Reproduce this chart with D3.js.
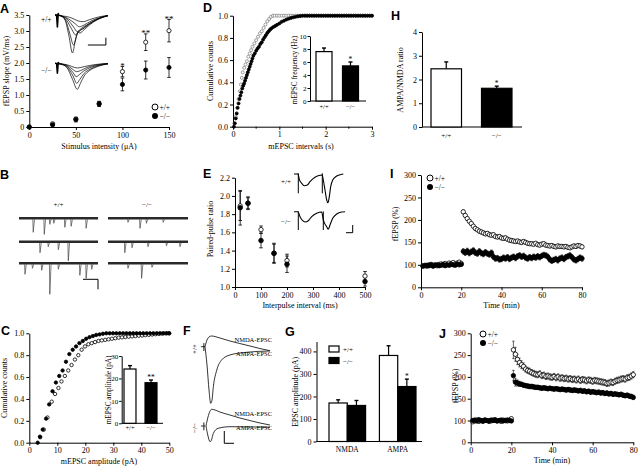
<!DOCTYPE html>
<html><head><meta charset="utf-8">
<script src="https://cdn.jsdelivr.net/npm/d3@7"></script>
<style>
body{margin:0;background:#fff}
svg text{font-family:"Liberation Serif","Times New Roman",serif;fill:#000}
</style></head><body>
<svg id="c" width="638" height="467" xmlns="http://www.w3.org/2000/svg"></svg>
<script>
// ===================== DATA =====================
const WT = "+/+", KO = "\u2212/\u2212";
const genotypes = [WT, KO];
// --- A: input-output ---
const aStim = [0,25,50,75,100,125,150];
const aWT = [0.00,0.10,0.25,0.73,1.73,2.65,3.01];
const aWTerr = [0.02,0.04,0.05,0.07,0.16,0.26,0.35];
const aKO = [0.00,0.07,0.23,0.72,1.33,1.78,1.86];
const aKOerr = [0.02,0.04,0.07,0.08,0.20,0.28,0.31];
const aStars = ["","","","","*","**","**"];
const aYTicks = [0,0.5,1,1.5,2,2.5,3,3.5];
const aYLabels = ["0","0.5","1.0","1.5","2.0","2.5","3.0","3.5"];
const aXTicks = [0,50,100,150];
// A inset traces (ms, mV)
const aTracesWT = [
 [[0,0],[1.0,-0.05],[1.8,-0.3],[2.6,-1.5],[3.3,-2.85],[3.8,-2.0],[4.3,-1.3],[5.0,-1.0],[6.0,-0.75],[7.5,-0.4],[9,-0.15],[10,-0.05]],
 [[0,0],[1.0,-0.05],[2.0,-0.4],[2.8,-1.4],[3.5,-2.25],[4.1,-1.5],[4.6,-1.2],[5.3,-1.0],[6.3,-0.7],[7.8,-0.35],[9,-0.15],[10,-0.05]],
 [[0,0],[1.0,-0.05],[2.2,-0.4],[3.2,-1.1],[3.9,-1.5],[4.3,-1.3],[4.7,-1.35],[5.5,-1.1],[6.5,-0.75],[8,-0.35],[10,-0.05]],
 [[0,0],[1.0,-0.05],[2.4,-0.35],[3.5,-0.9],[4.2,-1.25],[4.8,-1.15],[5.6,-0.95],[6.8,-0.6],[8.2,-0.3],[10,-0.05]],
 [[0,0],[1.0,-0.05],[2.6,-0.3],[3.8,-0.65],[4.6,-0.88],[5.5,-0.75],[6.8,-0.45],[8.4,-0.2],[10,-0.05]],
 [[0,0],[1.0,-0.05],[3.0,-0.2],[4.4,-0.45],[5.3,-0.5],[6.5,-0.35],[8.2,-0.15],[10,-0.03]]
];
const aTracesKO = [
 [[0,0],[1,-0.05],[2.2,-0.3],[3.3,-1.2],[4.2,-1.95],[4.8,-1.5],[5.5,-0.95],[6.5,-0.55],[8,-0.25],[10,-0.05]],
 [[0,0],[1,-0.05],[2.3,-0.3],[3.4,-0.95],[4.1,-1.5],[4.7,-1.2],[5.5,-0.75],[6.6,-0.45],[8,-0.2],[10,-0.04]],
 [[0,0],[1,-0.05],[2.4,-0.25],[3.4,-0.7],[4.0,-1.0],[4.6,-0.85],[5.5,-0.55],[6.8,-0.3],[8.5,-0.12],[10,-0.03]],
 [[0,0],[1,-0.04],[2.5,-0.2],[3.5,-0.5],[4.1,-0.63],[4.8,-0.55],[6,-0.32],[7.5,-0.15],[10,-0.02]],
 [[0,0],[1,-0.03],[2.6,-0.15],[3.6,-0.3],[4.3,-0.35],[5.5,-0.25],[7.5,-0.1],[10,-0.01]]
];
const aArtWT = [[0.3,0],[0.45,-0.9],[0.6,0.1],[0.75,0]];
const aArtKO = [[0.3,0],[0.45,-0.75],[0.6,0.05],[0.75,0]];
const aScaleBar = [[6.2,-2.25],[9.6,-2.25],[9.6,-1.7]];
// --- B: mEPSC traces (spike time 0-100, amplitude pA) ---
const bSpikesWT = [
 [[18,13],[32,15],[39,5],[44,4],[58,8],[66,7],[85,9]],
 [[26.6,10],[37,4],[49.8,7],[62.4,18]],
 [[7.6,10],[17,4],[28.7,6],[39,30],[49.8,5],[77,11],[85,14],[92,5]]
];
const bSpikesKO = [
 [[25,3],[40,9],[48,4],[69,3]],
 [[21,10],[30,5],[50,4],[73,3],[90,4]],
 [[25,4],[42,14],[55,3]]
];
const bScaleBar = [[81,-15],[100,-15],[100,-25]];
// --- C: amplitude cumulative ---
const cKOx = [3,3.8,4.8,6,7.1,8.3,9.5,10.7,11.9,13.1,14.3,15.5,16.7,17.9,19.1,20.3,21.5,22.7,23.9,25.1,26.3,27.5,28.7,29.9,31.1,32.3,33.5,34.7,35.9,37.1,38.3,39.5,40.7,41.9,43.1,44.3,45.5,46.7,47.9,49.1,50];
const cKOy = [0,0.055,0.12,0.22,0.35,0.47,0.55,0.61,0.66,0.74,0.81,0.85,0.88,0.91,0.93,0.95,0.965,0.975,0.985,0.99,0.996,1,1,1,1,1,1,1,1,1,1,1,1,1,1,1,1,1,1,1,1];
const cWTx = [3.9,5.2,6.5,8,9.2,10.4,11.5,12.7,13.9,15.1,16.3,17.5,18.7,19.9,21.1,22.3,23.5,24.7,25.9,27.1,28.3,29.5,30.7,31.9,33.1,34.3,35.5,36.7,37.9,39.1,40.3,41.5,42.7,43.9,45.1,46.3,47.5,48.7,49.9];
const cWTy = [0.05,0.12,0.23,0.375,0.445,0.5,0.56,0.61,0.66,0.71,0.76,0.8,0.85,0.88,0.9,0.91,0.92,0.93,0.935,0.94,0.945,0.95,0.955,0.96,0.963,0.966,0.969,0.972,0.975,0.978,0.98,0.983,0.986,0.989,0.992,0.995,0.997,1.0,1.0];
const cYTicks = [0,0.2,0.4,0.6,0.8,1.0];
const cYLabels = ["0.0","0.2","0.4","0.6","0.8","1.0"];
const cXTicks = [0,10,20,30,40,50];
const cAmp = [24.2,18.1], cAmpErr = [1.5,1.2], cAmpStar = ["","**"];
const cInsetTicks = [0,10,20,30];
// --- D: interval cumulative ---
const dWTx = [0.03,0.06,0.09,0.12,0.15,0.17,0.19,0.21,0.24,0.27,0.30,0.33,0.36,0.39,0.42,0.46,0.50,0.54,0.58,0.62,0.66,0.70,0.74,0.78,0.82,0.86];
const dWTy = [0.03,0.09,0.17,0.25,0.32,0.38,0.44,0.49,0.53,0.56,0.59,0.63,0.66,0.69,0.72,0.75,0.78,0.81,0.84,0.86,0.89,0.92,0.95,0.97,0.99,1.0];
const dWTtopX = [0.90,0.95,1.00,1.05,1.10,1.15,1.20,1.25,1.30,1.35,1.40,1.45,1.50,1.55,1.60,1.65,1.70,1.75,1.80,1.85,1.90,1.95,2.00,2.05,2.10,2.15,2.20,2.25,2.30,2.35,2.40,2.45,2.50,2.55,2.60,2.65,2.70,2.75,2.80,2.85,2.90,2.95,3.00];
const dKOx = [0.02,0.04,0.06,0.08,0.10,0.12,0.14,0.16,0.18,0.20,0.22,0.24,0.26,0.28,0.30,0.32,0.34,0.36,0.38,0.40,0.42,0.44,0.47,0.50,0.53,0.56,0.59,0.62,0.65,0.68,0.71,0.74,0.77,0.80,0.83,0.87,0.91,0.95,1.00,1.05,1.10,1.15,1.20,1.25,1.30,1.35,1.40,1.45,1.50,1.55,1.60];
const dKOy = [0.0,0.03,0.075,0.12,0.17,0.21,0.25,0.28,0.31,0.345,0.37,0.39,0.415,0.44,0.465,0.49,0.515,0.54,0.565,0.59,0.615,0.64,0.66,0.685,0.705,0.72,0.745,0.76,0.785,0.805,0.825,0.845,0.86,0.875,0.886,0.898,0.908,0.918,0.93,0.945,0.955,0.965,0.973,0.98,0.985,0.99,0.994,0.997,1.0,1.0,1.0];
const dKOtopX = [1.65,1.70,1.75,1.80,1.85,1.90,1.95,2.00,2.05,2.10,2.15,2.20,2.25,2.30,2.35,2.40,2.45,2.50,2.55,2.60,2.65,2.70,2.75,2.80,2.85,2.90,2.95,3.00];
const dTop = 1.0;
const dXTicks = [0,1,2,3], dXMinor = [0.5,1.5,2.5];
const dFreq = [7.6,5.4], dFreqErr = [0.55,0.6], dFreqStar = ["","*"];
const dInsetTicks = [0,2,4,6,8,10];
// --- E: paired-pulse ---
const eInt = [20,50,100,150,200,500];
const eWT = [1.89,1.92,1.63,1.37,1.29,1.12];
const eWTerr = [0.16,0.06,0.04,0.10,0.07,0.05];
const eKO = [1.87,1.92,1.51,1.37,1.25,1.06];
const eKOerr = [0.19,0.07,0.08,0.11,0.09,0.05];
const eYTicks = [1.0,1.2,1.4,1.6,1.8,2.0,2.2];
const eYLabels = ["1.0","1.2","1.4","1.6","1.8","2.0","2.2"];
const eXTicks = [0,100,200,300,400,500];
const eTraceWT = [[0,0],[8,0],[10.6,-0.53],[15.4,-0.93],[20.6,-1.17],[26.6,-1.1],[32,-0.77],[42,-0.33],[52,-0.13],[56.6,-0.1],[58.6,-0.6],[62,-1.6],[65.4,-2.6],[68,-2.87],[70.6,-2.27],[73.4,-1.27],[77.4,-0.6],[85.4,-0.2],[95.4,-0.03],[98.6,0]];
const eTraceKO = [[0,0],[8,0],[12,-0.5],[17.4,-0.9],[22,-1.03],[28.6,-0.9],[35.4,-0.5],[45.4,-0.16],[55.4,-0.03],[58.6,-0.83],[65.4,-1.5],[68.6,-1.76],[72,-1.33],[77.4,-0.66],[85.4,-0.23],[95.4,-0.03],[102,0]];
const eArtWT = [[8.6,0.07,-1.93],[56.6,0.07,-1.93]];
const eArtKO = [[8.6,0.03,-1.83],[58.6,0.03,-1.83]];
const eScaleBar = [[104,-2.1],[117.4,-2.1],[117.4,-1.33]];
// --- F: NMDA/AMPA EPSC traces (ms, pA) ---
const fWT_NMDA = [[5.8,0],[11.6,47],[17.4,68],[25,75],[35,71],[49,61],[78,40],[107,22],[136,5],[165,-13],[194,-28]];
const fWT_AMPA = [[5.8,0],[11.6,-128],[17.4,-303],[22.3,-396],[26,-375],[30,-280],[40,-163],[54,-93],[78,-58],[127,-39],[194,-30]];
const fKO_NMDA = [[8.7,0],[14.5,63],[25,117],[35,112],[49,98],[78,77],[107,56],[136,38],[165,21],[194,7]];
const fKO_AMPA = [[8.7,0],[14.5,-70],[20.3,-110],[24.6,-98],[30,-51],[44,-16],[78,-5],[194,-9]];
const fPre = [[-6,0],[6,0]];
const fArt = [2.5, 25, -30];
const fScaleBar = [[61.7,-35],[61.7,-121],[89.9,-121]];
// --- G: EPSC amplitude ---
const gGroups = ["NMDA","AMPA"];
const gWT = [171,382], gWTerr = [14,43];
const gKO = [160,244], gKOerr = [22,33];
const gStarKO = ["","*"];
const gTicks = [0,100,200,300,400];
// --- H: AMPA/NMDA ratio ---
const hRatio = [2.45,1.63], hErr = [0.29,0.09], hStar = ["","*"];
const hTicks = [0,1,2,3,4];
// --- I & J: LTP time courses ---
const tBase = [1,2,3,4,5,6,7,8,9,10,11,12,13,14,15,16,17,18,19,20];
const tPost = [21,22,23,24,25,26,27,28,29,30,31,32,33,34,35,36,37,38,39,40,41,42,43,44,45,46,47,48,49,50,51,52,53,54,55,56,57,58,59,60,61,62,63,64,65,66,67,68,69,70,71,72,73,74,75,76,77,78,79,80];
const iWTbase = [98,99,97,100,101,99,100,98,101,102,100,103,101,104,103,105,102,104,106,103];
const iKObase = [97,98,99,98,100,97,99,100,98,99,101,98,100,99,101,100,99,102,100,101];
const iWTpost = [218,210,203,197,192,186,181,178,175,173,171,169,170,167,166,167,163,162,163,160,159,160,157,155,154,153,152,153,151,150,152,150,148,147,147,146,148,145,144,146,147,144,143,142,143,141,140,142,141,141,140,141,139,138,140,142,141,143,142,140];
const iKOpost = [130,127,131,126,129,132,127,125,130,126,124,128,125,123,127,118,114,115,112,113,116,114,117,113,116,118,115,119,121,118,120,116,114,117,115,118,116,119,117,120,122,121,118,112,109,111,113,110,114,116,113,117,119,121,117,112,110,113,116,114];
const iSem = [4,6];
const jWTbase = [97,99,101,98,100,99,101,100,98,99,101,100,99,100,98,101,100,99,101,104];
const jKObase = [100,101,99,102,100,98,101,100,99,101,100,102,99,100,101,99,100,101,100,99];
const jWTpost = [262,252,240,233,228,224,218,215,213,210,208,206,205,207,203,204,201,202,200,199,201,198,200,197,198,196,197,195,196,194,195,193,195,192,194,193,191,193,192,190,192,191,190,189,188,187,185,186,188,187,190,192,193,195,196,195,198,199,202,205];
const jKOpost = [203,188,186,184,183,181,180,179,178,178,177,176,176,175,174,175,174,173,174,173,172,173,172,171,172,171,170,171,170,169,170,169,168,169,167,168,166,167,165,166,165,164,165,163,164,162,163,161,162,160,161,160,159,160,158,157,158,156,155,153];
const jWTsemEarly = [20,16,12,10,9,8], jKOsemEarly = [12,9,7,6,5];
const jSem = [7,5];
const ltpTicks = [50,100,150,200,250,300];
const ltpLabels = ["0","100","150","200","250","300"];
const timeTicks = [0,20,40,60,80];

// ===================== DRAWING =====================
const svg = d3.select("#c");
svg.append("rect").attr("width",638).attr("height",467).attr("fill","#fff");
const FS = 8;
function styleAxis(g,fs){
  g.selectAll("path,line").attr("stroke","#000").attr("stroke-width",1);
  g.selectAll("text").attr("font-size",fs||FS);
}
function axisL(s, x, vals, labs, fs, size=3, pad=2){
  const g = svg.append("g").attr("transform",`translate(${x},0)`)
    .call(d3.axisLeft(s).tickValues(vals).tickFormat((d,i)=>labs?labs[i]:d).tickSize(size).tickSizeOuter(0).tickPadding(pad));
  styleAxis(g,fs); return g;
}
function axisB(s, y, vals, labs, fs){
  const g = svg.append("g").attr("transform",`translate(0,${y})`)
    .call(d3.axisBottom(s).tickValues(vals).tickFormat((d,i)=>labs?labs[i]:d).tickSize(3).tickSizeOuter(0).tickPadding(2));
  styleAxis(g,fs); return g;
}
function text(x,y,s,size=FS,anchor="start"){
  return svg.append("text").attr("x",x).attr("y",y).attr("font-size",size).attr("text-anchor",anchor).text(s);
}
function yLabel(x,y,s,size=FS){
  svg.append("text").attr("transform",`translate(${x},${y}) rotate(-90)`).attr("text-anchor","middle").attr("font-size",size).text(s);
}
function letter(s,x,y){
  svg.append("text").attr("x",x).attr("y",y).attr("font-size",12.5).attr("font-weight","bold")
   .style("font-family","'Liberation Sans',Arial,sans-serif").text(s);
}
function errBars(xs, ys, es, xS, yS, cap, w=0.8){
  xs.forEach((x,i)=>{
    const px = xS(x);
    svg.append("line").attr("x1",px).attr("x2",px).attr("y1",yS(ys[i]-es[i])).attr("y2",yS(ys[i]+es[i])).attr("stroke","#000").attr("stroke-width",w);
    [ys[i]-es[i], ys[i]+es[i]].forEach(v=>svg.append("line").attr("x1",px-cap).attr("x2",px+cap).attr("y1",yS(v)).attr("y2",yS(v)).attr("stroke","#000").attr("stroke-width",w));
  });
}
function dots(xs, ys, xS, yS, r, open, stroke="#000", sw=0.8){
  svg.append("g").selectAll("circle").data(xs).join("circle")
   .attr("cx",d=>xS(d)).attr("cy",(d,i)=>yS(ys[i])).attr("r",r)
   .attr("fill",open?"#fff":stroke).attr("stroke",stroke).attr("stroke-width",sw);
}
function trace(pts, xS, yS, w=0.8, curve=d3.curveMonotoneX, color="#000"){
  svg.append("path").attr("d", d3.line().x(d=>xS(d[0])).y(d=>yS(d[1])).curve(curve)(pts))
   .attr("fill","none").attr("stroke",color).attr("stroke-width",w).attr("stroke-linejoin","round");
}
function bars(xBand, vals, errs, yS, fills, cap){
  genotypes.forEach((g,i)=>{
    const x0 = xBand(g), w = xBand.bandwidth();
    svg.append("rect").attr("x",x0).attr("y",yS(vals[i])).attr("width",w).attr("height",yS(0)-yS(vals[i]))
      .attr("fill",fills[i]).attr("stroke","#000").attr("stroke-width",1.2);
    const cx = x0+w/2;
    svg.append("line").attr("x1",cx).attr("x2",cx).attr("y1",yS(vals[i])).attr("y2",yS(vals[i]+errs[i])).attr("stroke","#000").attr("stroke-width",1.2);
    svg.append("line").attr("x1",cx-cap).attr("x2",cx+cap).attr("y1",yS(vals[i]+errs[i])).attr("y2",yS(vals[i]+errs[i])).attr("stroke","#000").attr("stroke-width",1.4);
  });
}

// ---------- Panel letters ----------
letter("A",0,13); letter("B",0,179); letter("C",1,335); letter("D",203,12); letter("E",203,178);
letter("F",183,335); letter("G",285,336); letter("H",391,20); letter("I",390,178); letter("J",439,338);

// ---------- A ----------
{
  const x = d3.scaleLinear([0,150],[29.3,169]);
  const y = d3.scaleLinear([0,3.5],[127,15]);
  axisB(x,127,aXTicks); axisL(y,29.3,aYTicks,aYLabels);
  yLabel(9,71,"fEPSP slope (mV/ms)");
  text(99,149,"Stimulus intensity (\u03bcA)",FS,"middle");
  errBars(aStim,aWT,aWTerr,x,y,1.8);
  errBars(aStim,aKO,aKOerr,x,y,1.8);
  dots(aStim,aWT,x,y,2.1,true);
  dots(aStim,aKO,x,y,2.1,false);
  aStim.forEach((s,i)=>{ if(aStars[i]) text(x(s),y(aWT[i]+aWTerr[i])+2.5,aStars[i],9,"middle"); });
  svg.append("circle").attr("cx",155).attr("cy",107).attr("r",3).attr("fill","#fff").attr("stroke","#000");
  svg.append("circle").attr("cx",155).attr("cy",116).attr("r",3).attr("fill","#000");
  text(159.5,110,WT,7.5); text(159.5,119,KO,7.5);
  const tx = d3.scaleLinear([0,10],[55,108]);
  const tyW = d3.scaleLinear([0,-3],[15,55]);
  const tyK = d3.scaleLinear([0,-3],[63.3,103.3]);
  aTracesWT.forEach(t=>trace(t,tx,tyW,0.7));
  aTracesKO.forEach(t=>trace(t,tx,tyK,0.7));
  trace(aArtWT,tx,tyW,1.6,d3.curveLinear); trace(aArtKO,tx,tyK,1.6,d3.curveLinear);
  trace(aScaleBar,tx,tyW,1,d3.curveLinear);
  text(41,22,WT,7.5); text(41,73,KO,7.5);
}

// ---------- B ----------
{
  const rows = [218.3,241.7,263.3];
  const xW = d3.scaleLinear([0,100],[19,98]);
  const xK = d3.scaleLinear([0,100],[108,188]);
  text(58.5,207,WT,7,"middle"); text(147,207,KO,7,"middle");
  const drawRow = (spk, xs, base)=>{
    const ys = d3.scaleLinear([0,-30],[base+1,base+31]);
    svg.append("line").attr("x1",xs(0)).attr("x2",xs(100)).attr("y1",base).attr("y2",base).attr("stroke","#2a2a2a").attr("stroke-width",2.5);
    spk.forEach(([t,a])=>trace([[t-0.5,0],[t,-a],[t+1.6,0]],xs,ys,0.7,d3.curveLinear,"#444"));
  };
  bSpikesWT.forEach((s,i)=>drawRow(s,xW,rows[i]));
  bSpikesKO.forEach((s,i)=>drawRow(s,xK,rows[i]));
  const ys3 = d3.scaleLinear([0,-30],[rows[2]+1,rows[2]+31]);
  trace(bScaleBar,xW,ys3,1,d3.curveLinear);
}

// ---------- C ----------
{
  const x = d3.scaleLinear([0,50],[29.3,169.3]);
  const y = d3.scaleLinear([0,1],[442.7,333.3]);
  axisB(x,442.7,cXTicks); axisL(y,29.3,cYTicks,cYLabels);
  yLabel(7,388,"Cumulative counts");
  text(99,464,"mEPSC amplitude (pA)",FS,"middle");
  dots(cWTx,cWTy,x,y,1.7,true);
  dots(cKOx,cKOy,x,y,1.7,false);
  const bx = d3.scaleBand(genotypes,[124,157]).paddingInner(0.43);
  const by = d3.scaleLinear([0,30],[423.3,356]);
  svg.append("line").attr("x1",121.7).attr("x2",163).attr("y1",423.3).attr("y2",423.3).attr("stroke","#000");
  axisL(by,121.7,cInsetTicks,null,7,2.5,1);
  bars(bx,cAmp,cAmpErr,by,["#fff","#000"],2);
  genotypes.forEach((g,i)=>{ text(bx(g)+bx.bandwidth()/2,430,g,6.5,"middle"); if(cAmpStar[i]) text(bx(g)+bx.bandwidth()/2,by(cAmp[i]+cAmpErr[i])-0.5,cAmpStar[i],7.5,"middle"); });
  yLabel(110.5,390,"mEPSC amplitude (pA)",7.2);
}

// ---------- D ----------
{
  const x = d3.scaleLinear([0,3],[233,372]);
  const y = d3.scaleLinear([0,1],[126.7,15.7]);
  axisB(x,126.7,dXTicks);
  dXMinor.forEach(v=>svg.append("line").attr("x1",x(v)).attr("x2",x(v)).attr("y1",126.7).attr("y2",128.7).attr("stroke","#000"));
  axisL(y,233,cYTicks,cYLabels);
  yLabel(213,71,"Cumulative counts");
  text(301,149,"mEPSC intervals (s)",FS,"middle");
  dots(dWTx,dWTy,x,y,1.5,true,"#777",0.7);
  dots(dWTtopX,dWTtopX.map(()=>dTop),x,y,1.5,true,"#777",0.7);
  dots(dKOx,dKOy,x,y,1.5,false);
  dots(dKOtopX,dKOtopX.map(()=>dTop),x,y,1.5,false);
  const bx = d3.scaleBand(genotypes,[316,358.5]).paddingInner(0.396);
  const by = d3.scaleLinear([0,10],[101,36]);
  svg.append("line").attr("x1",310).attr("x2",366).attr("y1",101).attr("y2",101).attr("stroke","#000");
  axisL(by,310,dInsetTicks,null,7,2.5,1);
  bars(bx,dFreq,dFreqErr,by,["#fff","#000"],2);
  genotypes.forEach((g,i)=>{ text(bx(g)+bx.bandwidth()/2,109,g,6.5,"middle"); if(dFreqStar[i]) text(bx(g)+bx.bandwidth()/2,by(dFreq[i]+dFreqErr[i])-0.5,dFreqStar[i],7.5,"middle"); });
  yLabel(297,70,"mEPSC frequency (Hz)",7.2);
}

// ---------- E ----------
{
  const x = d3.scaleLinear([0,500],[235,365]);
  const y = d3.scaleLinear([1.0,2.2],[287,177.7]);
  axisB(x,287,eXTicks); axisL(y,235,eYTicks,eYLabels);
  yLabel(213,229,"Paired-pulse ratio");
  text(300,308,"Interpulse interval (ms)",FS,"middle");
  errBars(eInt,eWT,eWTerr,x,y,1.8);
  errBars(eInt,eKO,eKOerr,x,y,1.8);
  dots(eInt,eWT,x,y,2.2,true);
  dots(eInt,eKO,x,y,2.3,false);
  const tx = d3.scaleLinear([0,100],[294,344]);
  const tyW = d3.scaleLinear([0,-1],[174,184]);
  const tyK = d3.scaleLinear([0,-1],[211.7,221.7]);
  trace(eTraceWT,tx,tyW,1.1); trace(eTraceKO,tx,tyK,1.1);
  eArtWT.forEach(a=>trace([[a[0],a[1]],[a[0],a[2]]],tx,tyW,1,d3.curveLinear));
  eArtKO.forEach(a=>trace([[a[0],a[1]],[a[0],a[2]]],tx,tyK,1,d3.curveLinear));
  trace(eScaleBar,tx,tyK,1,d3.curveLinear);
  text(281,184,WT,7); text(281,224,KO,7);
}

// ---------- F ----------
{
  const tx = d3.scaleLinear([0,200],[203,272]);
  const yW = d3.scaleLinear([0,-70],[346.7,356.7]);
  const yK = d3.scaleLinear([0,-70],[426,436]);
  [[yW,fWT_NMDA,fWT_AMPA],[yK,fKO_NMDA,fKO_AMPA]].forEach(([ys,n,a])=>{
    trace(fPre,tx,ys,0.8,d3.curveLinear);
    trace([[fArt[0],fArt[1]],[fArt[0],fArt[2]]],tx,ys,0.9,d3.curveLinear);
    trace(n,tx,ys,0.8); trace(a,tx,ys,0.8);
  });
  trace(fScaleBar,tx,yK,1,d3.curveLinear);
  text(272,342,"NMDA-EPSC",6.5,"end"); text(272,356,"AMPA-EPSC",6.5,"end");
  text(272,416,"NMDA-EPSC",6.5,"end"); text(272,430,"AMPA-EPSC",6.5,"end");
  yLabel(197,349,WT,7); yLabel(197,428,KO,7);
}

// ---------- G ----------
{
  const y = d3.scaleLinear([0,444],[441.5,341.5]);
  const xg = d3.scaleBand(gGroups,[329,416]).paddingInner(0.2745);
  axisL(y,316.5,gTicks);
  svg.append("line").attr("x1",316.5).attr("x2",422).attr("y1",441.5).attr("y2",441.5).attr("stroke","#000");
  gGroups.forEach((grp,gi)=>{
    const sub = d3.scaleBand(genotypes,[xg(grp),xg(grp)+xg.bandwidth()]);
    bars(sub,[gWT[gi],gKO[gi]],[gWTerr[gi],gKOerr[gi]],y,["#fff","#000"],2);
    text(xg(grp)+xg.bandwidth()/2,452,grp,7.5,"middle");
    if(gStarKO[gi]) text(sub(KO)+sub.bandwidth()/2,y(gKO[gi]+gKOerr[gi])-0.5,gStarKO[gi],7.5,"middle");
  });
  yLabel(297.5,392,"EPSC amplitude (pA)");
  svg.append("rect").attr("x",329).attr("y",346).attr("width",10).attr("height",6).attr("fill","#fff").attr("stroke","#000").attr("stroke-width",1.2);
  svg.append("rect").attr("x",329).attr("y",357.5).attr("width",10).attr("height",6).attr("fill","#000").attr("stroke","#000").attr("stroke-width",1.2);
  text(343,352,WT,7); text(343,363.5,KO,7);
}

// ---------- H ----------
{
  const y = d3.scaleLinear([0,4],[127,32]);
  const bx = d3.scaleBand(genotypes,[431,512]).paddingInner(0.396);
  axisL(y,422,hTicks);
  svg.append("line").attr("x1",422).attr("x2",522).attr("y1",127).attr("y2",127).attr("stroke","#000");
  bars(bx,hRatio,hErr,y,["#fff","#000"],2);
  genotypes.forEach((g,i)=>{ text(bx(g)+bx.bandwidth()/2,138,g,7,"middle"); if(hStar[i]) text(bx(g)+bx.bandwidth()/2,y(hRatio[i]+hErr[i])-0.5,hStar[i],7.5,"middle"); });
  yLabel(403,80,"AMPA/NMDA ratio");
}

// ---------- I & J ----------
function ltp(x0,x1,yBot,yTop,wb,kb,wp,kp,semW,semK,earlyW,earlyK,legX,legY,ylx,yly,xlY){
  const x = d3.scaleLinear([0,80],[x0,x1]);
  const y = d3.scaleLinear([50,300],[yBot,yTop]);
  axisB(x,yBot,timeTicks); axisL(y,x0,ltpTicks,ltpLabels);
  const eW = wp.map((v,i)=> earlyW && i<earlyW.length ? earlyW[i] : semW);
  const eK = kp.map((v,i)=> earlyK && i<earlyK.length ? earlyK[i] : semK);
  errBars(tPost,wp,eW,x,y,1.2,0.6);
  errBars(tPost,kp,eK,x,y,1.2,0.6);
  errBars(tBase,wb,tBase.map(()=>semW/2),x,y,1.2,0.6);
  dots(tBase,wb,x,y,2.2,true,"#000",0.8);
  dots(tPost,wp,x,y,2.2,true,"#000",0.8);
  dots(tBase,kb,x,y,2.2,false);
  dots(tPost,kp,x,y,2.2,false);
  svg.append("circle").attr("cx",legX).attr("cy",legY).attr("r",3).attr("fill","#fff").attr("stroke","#000");
  svg.append("circle").attr("cx",legX).attr("cy",legY+9).attr("r",3).attr("fill","#000");
  text(legX+4.5,legY+3,WT,7.5); text(legX+4.5,legY+12,KO,7.5);
  yLabel(ylx,yly,"fEPSP (%)");
  text((x0+x1)/2,xlY,"Time (min)",FS,"middle");
}
ltp(421,582,287.3,175,iWTbase,iKObase,iWTpost,iKOpost,iSem[0],iSem[1],null,null,430,178,398,224,308);
ltp(470.7,633.3,442.3,333.3,jWTbase,jKObase,jWTpost,jKOpost,jSem[0],jSem[1],jWTsemEarly,jKOsemEarly,483,334,458,386,463);
</script></body></html>
